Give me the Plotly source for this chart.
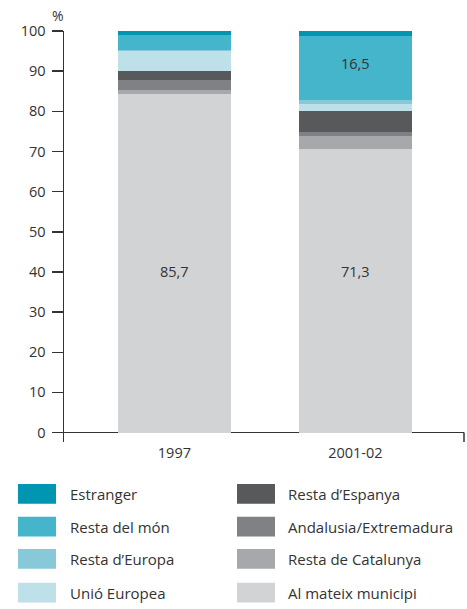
import plotly.graph_objects as go

# ---- data ----
categories = ["1997", "2001-02"]
series_names = [
    "Al mateix municipi",
    "Resta de Catalunya",
    "Andalusia/Extremadura",
    "Resta d\u2019Espanya",
    "Unió Europea",
    "Resta d\u2019Europa",
    "Resta del món",
    "Estranger",
]
series_colors = [
    "#d2d3d5",
    "#a7a8ab",
    "#808184",
    "#58595b",
    "#bee0e9",
    "#87c9d8",
    "#45b5cb",
    "#0095b0",
]
al_mateix = [84.4, 70.6]
resta_catalunya = [0.8, 3.2]
andalusia = [2.7, 1.0]
resta_espanya = [2.2, 5.2]
unio_europea = [4.8, 1.8]
resta_europa = [0.4, 0.9]
resta_mon = [3.7, 16.1]
estranger = [1.0, 1.2]
series_values = [al_mateix, resta_catalunya, andalusia, resta_espanya,
                 unio_europea, resta_europa, resta_mon, estranger]

label_texts = ["85,7", "71,3", "16,5"]
label_cats = [0, 1, 1]
label_y = [40, 40, 92]

y_ticks = [0, 10, 20, 30, 40, 50, 60, 70, 80, 90, 100]

# legend order (row-wise, two columns)
legend_order = ["Estranger", "Resta d\u2019Espanya",
                "Resta del món", "Andalusia/Extremadura",
                "Resta d\u2019Europa", "Resta de Catalunya",
                "Unió Europea", "Al mateix municipi"]

W, H = 467, 609
L, R, T, B = 64, 3, 31, 167
FONT = "Open Sans"
TXT = "#333333"

fig = go.Figure()
for name, color, vals in zip(series_names, series_colors, series_values):
    fig.add_trace(go.Bar(
        x=[0, 1], y=vals, name=name, marker_color=color,
        marker_line_width=0, width=0.624, showlegend=False,
    ))

for t, c, y in zip(label_texts, label_cats, label_y):
    fig.add_annotation(x=c, y=y, text=t, showarrow=False,
                       font=dict(family=FONT, size=14.5, color=TXT))

pw, ph = W - L - R, H - T - B


def px_x(px):
    return (px - L) / pw


def px_y(py):
    return (H - B - py) / ph


shapes = []
# right end tick of x axis
shapes.append(dict(type="line", xref="paper", yref="y", x0=1, x1=1,
                   y0=0, y1=-3, line=dict(color=TXT, width=1.5)))

col_x = [18, 237]
text_x = [68, 286]
row_top = [484, 516.7, 549, 582.7]
sw_w, sw_h = 38, 19.7
for i, name in enumerate(legend_order):
    col, row = i % 2, i // 2
    color = series_colors[series_names.index(name)]
    x0 = col_x[col]
    y0 = row_top[row]
    shapes.append(dict(type="rect", xref="paper", yref="paper",
                       x0=px_x(x0), x1=px_x(x0 + sw_w),
                       y0=px_y(y0 + sw_h), y1=px_y(y0),
                       fillcolor=color, line=dict(width=0)))
    fig.add_annotation(xref="paper", yref="paper", x=px_x(text_x[col]),
                       y=px_y(y0 + sw_h / 2), text=name, showarrow=False,
                       xanchor="left", yanchor="middle",
                       font=dict(family=FONT, size=15, color=TXT))

fig.add_annotation(xref="paper", yref="paper", x=px_x(58), y=px_y(16),
                   text="%", showarrow=False, xanchor="center",
                   yanchor="middle", font=dict(family=FONT, size=14, color=TXT))

fig.update_layout(
    width=W, height=H,
    margin=dict(l=L, r=R, t=T, b=B, pad=0),
    paper_bgcolor="white", plot_bgcolor="white",
    barmode="stack", bargap=0,
    shapes=shapes,
    font=dict(family=FONT, size=14.5, color=TXT),
    xaxis=dict(range=[-0.61, 1.6], tickmode="array", tickvals=[0, 1],
               ticktext=categories, showline=False, showgrid=False,
               zeroline=False, ticks="", fixedrange=True,
               tickfont=dict(family=FONT, size=14.5, color=TXT)),
    yaxis=dict(range=[-2.35, 100], tickmode="array", tickvals=y_ticks,
               showline=True, linecolor=TXT, linewidth=1.5,
               ticks="outside", ticklen=11, tickwidth=1.5, tickcolor=TXT,
               showgrid=False, zeroline=True, zerolinecolor=TXT,
               zerolinewidth=1.5, ticklabelstandoff=3, fixedrange=True,
               tickfont=dict(family=FONT, size=14.5, color=TXT)),
)

fig.write_html("out.html", config={"displayModeBar": False, "staticPlot": True},
               post_script="document.body.style.margin='0';document.body.style.padding='0';")
